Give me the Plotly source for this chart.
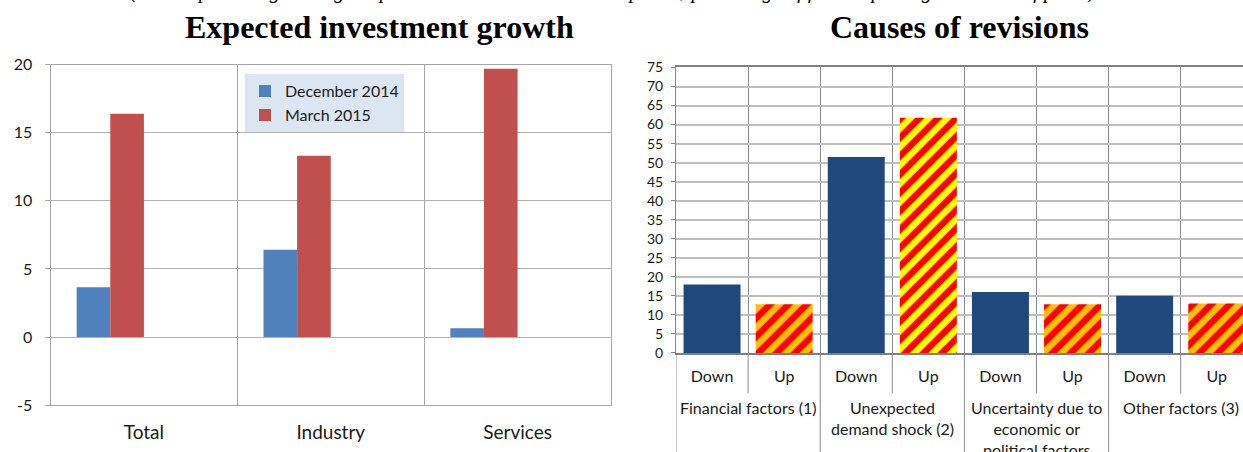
import plotly.graph_objects as go

# Left panel: expected investment growth by sector
sectors = ["Total", "Industry", "Services"]
december_2014 = [3.65, 6.4, 0.65]
march_2015 = [16.4, 13.3, 19.7]

# Right panel: causes of revisions (percentage of firms)
cause_groups = [
    "Financial factors (1)",
    "Unexpected<br>demand shock (2)",
    "Uncertainty due to<br>economic or<br>political factors",
    "Other factors (3)",
]
directions = ["Down", "Up"]
revisions_down = [18.0, 51.5, 16.0, 15.0]
revisions_up = [12.8, 61.8, 12.8, 13.0]

left_ticks = [-5, 0, 5, 10, 15, 20]
left_tick_text = ["-5", "0", "5", "10", "15", "20"]
right_ticks = list(range(0, 80, 5))

# category slots for the right panel: one per (cause, direction)
slots = [f"{i}-{d}" for i in range(len(cause_groups)) for d in directions]
down_slots = slots[0::2]
up_slots = slots[1::2]
slot_labels = [d for _ in cause_groups for d in directions]

BODY_FONT = "Lato"
TEXT = "#1A1A1A"
STRIPE = "#FF0000"
up_backgrounds = ["#FFC000", "#FFFF00", "#FFC000", "#FFC000"]

fig = go.Figure()

fig.add_trace(go.Bar(
    x=sectors, y=december_2014, name="December 2014",
    marker=dict(color="#4F81BD", line=dict(width=0)),
    offset=-0.36, width=0.18, xaxis="x", yaxis="y",
))
fig.add_trace(go.Bar(
    x=sectors, y=march_2015, name="March 2015",
    marker=dict(color="#C0504D", line=dict(width=0)),
    offset=-0.18, width=0.18, xaxis="x", yaxis="y",
))

fig.add_trace(go.Bar(
    x=down_slots, y=revisions_down, showlegend=False,
    marker=dict(color="#1F497D", line=dict(width=0)),
    width=0.79, xaxis="x2", yaxis="y2",
))
# hatched bars: per-bar background with red diagonal stripes
fig.add_trace(go.Bar(
    x=up_slots, y=revisions_up, showlegend=False,
    marker=dict(
        color=STRIPE, line=dict(width=0),
        pattern=dict(shape="/", fgcolor=STRIPE, bgcolor=up_backgrounds,
                     fgopacity=1, size=13, solidity=0.5, fillmode="replace"),
    ),
    width=0.79, xaxis="x2", yaxis="y2",
))

W, H = 1243, 452
AXIS_Y2 = 1 - 358 / H

fig.update_layout(
    width=W, height=H,
    margin=dict(l=0, r=0, t=0, b=0),
    paper_bgcolor="white", plot_bgcolor="white",
    barmode="overlay",
    font=dict(family=BODY_FONT, color=TEXT),
    showlegend=True,
    legend=dict(
        x=245 / W, y=1 - 67 / H, xanchor="left", yanchor="top",
        bgcolor="#DCE6F2", borderwidth=0,
        font=dict(family=BODY_FONT, size=16, color=TEXT),
        tracegroupgap=0,
    ),
    xaxis=dict(
        domain=[50.5 / W, 611 / W], type="category",
        tickson="boundaries", showgrid=True, gridcolor="#A6A6A6", gridwidth=1,
        showline=True, linecolor="#A6A6A6", linewidth=1, mirror=True,
        ticks="", tickfont=dict(size=19), ticklabelstandoff=10,
        fixedrange=True,
    ),
    yaxis=dict(
        domain=[1 - 412.5 / H, 1 - 57 / H], range=[-5, 20],
        tickmode="array", tickvals=left_ticks, ticktext=left_tick_text,
        showgrid=True, gridcolor="#B3B3B3", gridwidth=1, zeroline=False,
        showline=True, linecolor="#A6A6A6", linewidth=1, mirror=True,
        ticks="outside", ticklen=5, tickcolor="#A6A6A6",
        tickfont=dict(size=16), ticklabelstandoff=9,
    ),
    xaxis2=dict(
        domain=[676 / W, 1.0], type="category", anchor="y2",
        categoryorder="array", categoryarray=slots,
        range=[-0.5, -0.5 + (W - 676) / 72.1],
        tickmode="array", tickvals=slots, ticktext=slot_labels,
        tickson="boundaries", showgrid=True, gridcolor="#8C8C8C", gridwidth=1,
        ticks="", ticklabelstandoff=8,
        showline=True, linecolor="#7F7F7F", linewidth=1.5, mirror=True,
        tickfont=dict(size=16),
    ),
    yaxis2=dict(
        domain=[AXIS_Y2, 1 - 60 / H], range=[0, 75],
        anchor="x2",
        tickmode="array", tickvals=right_ticks,
        showgrid=True, gridcolor="#BFBFBF", gridwidth=1.5, zeroline=False,
        showline=True, linecolor="#868686", linewidth=1,
        ticks="outside", ticklen=4, tickcolor="#868686",
        tickfont=dict(size=14), ticklabelstandoff=5,
    ),
)

# dividers under the right axis: short ones between Down/Up, long ones between causes
shapes = []
for k in range(len(slots)):
    xb = k - 0.5
    is_group_edge = k % len(directions) == 0
    shapes.append(dict(
        type="line", xref="x2", yref="paper",
        x0=xb, x1=xb, y0=AXIS_Y2,
        y1=-0.05 if is_group_edge else 1 - 400 / H,
        line=dict(color="#8C8C8C", width=1),
    ))
fig.update_layout(shapes=shapes)

annotations = []
for i, label in enumerate(cause_groups):
    annotations.append(dict(
        x=i * len(directions) + 0.5, xref="x2",
        y=1 - 403 / H, yref="paper", yanchor="top",
        text=label, showarrow=False, align="center",
        font=dict(family=BODY_FONT, size=16, color=TEXT),
    ))

TITLE_FONT = dict(family="Liberation Serif", size=32, color="black", weight="bold")
annotations.append(dict(
    x=380 / W, y=1 - 18 / H, xref="paper", yref="paper",
    xanchor="center", yanchor="middle", showarrow=False,
    text="Expected investment growth", font=TITLE_FONT,
))
annotations.append(dict(
    x=959 / W, y=1 - 18 / H, xref="paper", yref="paper",
    xanchor="center", yanchor="middle", showarrow=False,
    text="Causes of revisions", font=TITLE_FONT,
))
annotations.append(dict(
    x=612 / W, y=1 + 5 / H, xref="paper", yref="paper",
    xanchor="center", yanchor="bottom", showarrow=False,
    text="(annual percentage change in planned investment at current prices; percentage of firms reporting a revision of plans)",
    font=dict(family="Liberation Serif", size=20.5, color="black", style="italic"),
))
fig.update_layout(annotations=annotations)

fig.write_html("out.html")
